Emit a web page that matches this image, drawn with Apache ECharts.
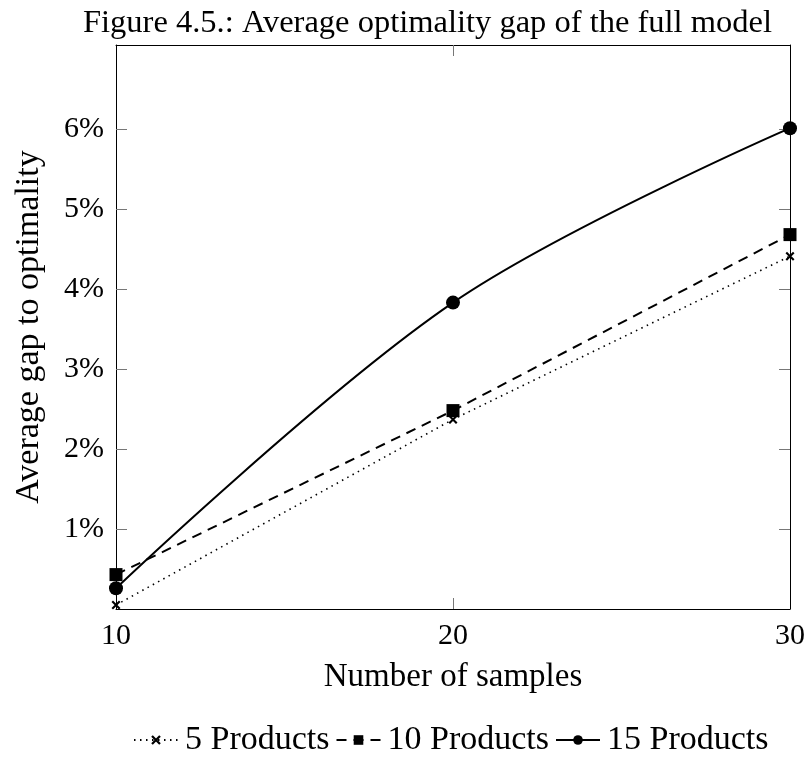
<!DOCTYPE html>
<html>
<head>
<meta charset="utf-8">
<script src="https://cdn.jsdelivr.net/npm/echarts@6/dist/echarts.min.js"></script>
<style>
  html, body { margin: 0; padding: 0; background: #fff; }
  #chart { width: 808px; height: 769px; }
</style>
</head>
<body>
<div id="chart"></div>
<script>
// Sample counts on the x axis
const samples = [10, 20, 30];
// Average optimality gap (%) per product count
const gap5 = [0.05, 2.37, 4.41];
const gap10 = [0.43, 2.48, 4.68];
const gap15 = [0.26, 3.83, 6.01];
const seriesNames = ['5 Products', '10 Products', '15 Products'];
const yTicks = [1, 2, 3, 4, 5, 6];
const xTicks = [10, 20, 30];

const FONT = 'Liberation Serif';
const crossPath = 'path://M-1,1L1,-1L11,9L9,11Z M9,-1L11,1L1,11L-1,9Z';

const pairs = (ys) => samples.map((x, i) => [x, ys[i]]);

const chart = echarts.init(document.getElementById('chart'), null, { renderer: 'canvas' });

const tickStyle = { show: true, inside: true, length: 11, lineStyle: { color: '#777', width: 1 } };
const lineStyleAxis = { show: true, onZero: false, lineStyle: { color: '#000', width: 1 } };

chart.setOption({
  animation: false,
  backgroundColor: '#fff',
  title: {
    text: 'Figure 4.5.: Average optimality gap of the full model',
    left: 78,
    top: 2,
    textStyle: { fontFamily: FONT, fontSize: 32.5, fontWeight: 'normal', color: '#000' }
  },
  legend: {
    bottom: 7,
    left: 128,
    itemWidth: 44,
    itemHeight: 12,
    itemGap: 6,
    data: seriesNames,
    textStyle: { fontFamily: FONT, fontSize: 34, color: '#000', padding: [0, 0, 0, 2] }
  },
  grid: { left: 116, right: 17, top: 45, bottom: 160 },
  xAxis: [
    {
      type: 'value', position: 'bottom', min: 10, max: 30, interval: 10,
      name: 'Number of samples', nameLocation: 'middle', nameGap: 52,
      nameTextStyle: { fontFamily: FONT, fontSize: 33, color: '#000' },
      axisLine: lineStyleAxis,
      axisTick: Object.assign({}, tickStyle, { customValues: [20] }),
      axisLabel: { customValues: xTicks, fontFamily: FONT, fontSize: 30, color: '#000', margin: 12 },
      splitLine: { show: false }
    },
    {
      type: 'value', position: 'top', min: 10, max: 30, interval: 10,
      axisLine: lineStyleAxis,
      axisTick: Object.assign({}, tickStyle, { customValues: [20] }),
      axisLabel: { show: false },
      splitLine: { show: false }
    }
  ],
  yAxis: [
    {
      type: 'value', position: 'left', min: 0, max: 7.05,
      name: 'Average gap to optimality', nameLocation: 'middle', nameGap: 70,
      nameTextStyle: { fontFamily: FONT, fontSize: 34, color: '#000' },
      axisLine: lineStyleAxis,
      axisTick: Object.assign({}, tickStyle, { customValues: yTicks }),
      axisLabel: {
        customValues: yTicks, fontFamily: FONT, fontSize: 30, color: '#000', margin: 12,
        formatter: (v) => v + '%'
      },
      splitLine: { show: false }
    },
    {
      type: 'value', position: 'right', min: 0, max: 7.05,
      axisLine: lineStyleAxis,
      axisTick: Object.assign({}, tickStyle, { customValues: yTicks }),
      axisLabel: { show: false },
      splitLine: { show: false }
    }
  ],
  series: [
    {
      name: seriesNames[0], type: 'line', data: pairs(gap5),
      xAxisIndex: 0, yAxisIndex: 0,
      symbol: crossPath, symbolSize: 9, showAllSymbol: true,
      lineStyle: { color: '#000', width: 1.6, type: [1.5, 4.5] },
      itemStyle: { color: '#000', borderColor: '#000', borderWidth: 0 },
      z: 3
    },
    {
      name: seriesNames[1], type: 'line', data: pairs(gap10),
      xAxisIndex: 0, yAxisIndex: 0,
      symbol: 'rect', symbolSize: 13,
      lineStyle: { color: '#000', width: 2, type: [10, 7] },
      itemStyle: { color: '#000' },
      z: 4
    },
    {
      name: seriesNames[2], type: 'line', data: pairs(gap15),
      xAxisIndex: 0, yAxisIndex: 0,
      symbol: 'circle', symbolSize: 14, smooth: 0.35,
      lineStyle: { color: '#000', width: 2 },
      itemStyle: { color: '#000' },
      z: 5
    }
  ]
});
</script>
</body>
</html>
